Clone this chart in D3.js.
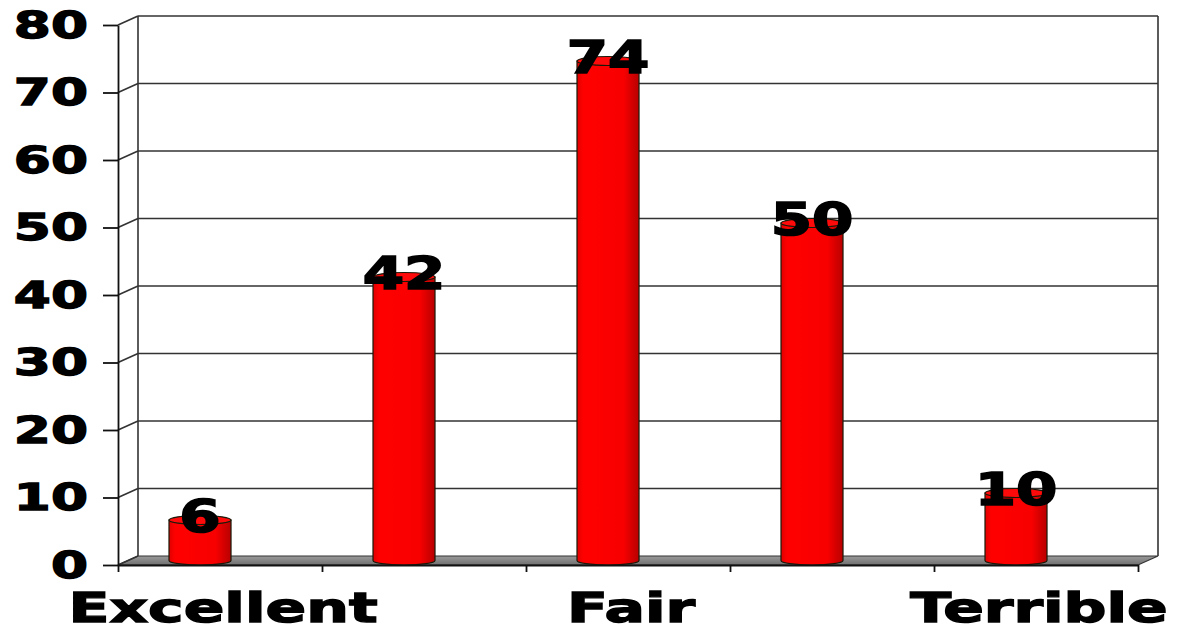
<!DOCTYPE html>
<html><head><meta charset="utf-8">
<script src="https://cdn.jsdelivr.net/npm/d3@7"></script>
<style>body{margin:0;background:#fff}svg{display:block}</style>
</head><body>
<svg id="c" width="1181" height="630"></svg>
<script>
const categories = ["Excellent", "Good", "Fair", "Poor", "Terrible"];
const values = [6, 42, 74, 50, 10];
const shownLabels = ["Excellent", "", "Fair", "", "Terrible"];
const yTicks = [0, 10, 20, 30, 40, 50, 60, 70, 80];

(function () {
const svg = d3.select("#c");
const FONT = "'DejaVu Sans', 'Liberation Sans', Arial, sans-serif";
const depthX = 20, depthY = -9;
const pL = 118, pR = 1138, pB = 565, pT = 25;

const y = d3.scaleLinear().domain([0, 80]).range([pB, pT]);
const x = d3.scaleBand().domain(categories).range([pL, pR]).padding(0);
const edge = d3.scaleLinear().domain([0, categories.length]).range([pL, pR]);
const bw = x.bandwidth();

const defs = svg.append("defs");
const bg = defs.append("linearGradient").attr("id", "barG").attr("x1", 0).attr("x2", 1).attr("y1", 0).attr("y2", 0);
[[0, "#e00000"], [0.1, "#ff0000"], [0.75, "#f80000"], [1, "#b80000"]]
  .forEach(([o, c]) => bg.append("stop").attr("offset", o).attr("stop-color", c));
const fg = defs.append("linearGradient").attr("id", "floorG").attr("x1", 0).attr("x2", 0).attr("y1", 0).attr("y2", 1);
[[0, "#9a9a9a"], [1, "#707070"]].forEach(([o, c]) => fg.append("stop").attr("offset", o).attr("stop-color", c));

// floor
svg.append("path")
  .attr("d", `M${pL},${y(0)} L${pR},${y(0)} L${pR + depthX},${y(0) + depthY} L${pL + depthX},${y(0) + depthY} Z`)
  .attr("fill", "url(#floorG)").attr("stroke", "#333").attr("stroke-width", 1.2);

// back wall gridlines and side diagonals
const grid = svg.append("g").attr("stroke", "#333").attr("stroke-width", 1.6).attr("fill", "none");
yTicks.filter(v => v > 0).forEach(v => {
  grid.append("line").attr("x1", pL + depthX).attr("x2", pR + depthX)
    .attr("y1", y(v) + depthY).attr("y2", y(v) + depthY);
});
yTicks.forEach(v => {
  grid.append("line").attr("x1", pL).attr("x2", pL + depthX)
    .attr("y1", y(v)).attr("y2", y(v) + depthY);
});
grid.append("line").attr("x1", pL + depthX).attr("x2", pL + depthX)
  .attr("y1", y(0) + depthY).attr("y2", y(80) + depthY);
grid.append("line").attr("x1", pR + depthX).attr("x2", pR + depthX)
  .attr("y1", y(0) + depthY).attr("y2", y(80) + depthY);

// bars (cylinders)
const rx = bw * 0.152, ry = 4.5;
const bars = svg.append("g");
categories.forEach((c, i) => {
  const cx = x(c) + bw * 0.25 + rx;
  const yb = y(0) + depthY / 2, yt = y(values[i]) + depthY / 2;
  bars.append("path")
    .attr("d", `M${cx - rx},${yt} L${cx - rx},${yb} A${rx},${ry} 0 0 0 ${cx + rx},${yb} L${cx + rx},${yt} Z`)
    .attr("fill", "url(#barG)").attr("stroke", "#1a1a0a").attr("stroke-width", 1.2);
  bars.append("ellipse").attr("cx", cx).attr("cy", yt).attr("rx", rx).attr("ry", ry)
    .attr("fill", "#ff0a0a").attr("stroke", "#1a1a0a").attr("stroke-width", 1.2);
  const g = bars.append("g").attr("transform", `translate(${cx},${y(values[i]) + 7}) scale(1.35,1)`);
  g.append("text").attr("text-anchor", "middle").attr("font-family", FONT)
    .attr("font-weight", "bold").attr("font-size", 44).attr("fill", "#000")
    .attr("stroke", "#000").attr("stroke-width", 1.6).text(values[i]);
});

// y axis
const ya = svg.append("g").attr("transform", `translate(${pL},0)`)
  .call(d3.axisLeft(y).tickValues(yTicks).tickSize(15).tickSizeOuter(0).tickPadding(0));
ya.selectAll("path,line").attr("stroke", "#111").attr("stroke-width", 1.8);
ya.selectAll("text").attr("x", 0).attr("dy", null)
  .attr("transform", "translate(-30,12) scale(1.44,1)")
  .attr("font-family", FONT).attr("font-weight", "bold").attr("font-size", 37).attr("fill", "#000")
  .attr("stroke", "#000").attr("stroke-width", 1.3);

// x axis
const xa = svg.append("g").attr("transform", `translate(0,${pB})`)
  .call(d3.axisBottom(edge).tickValues(d3.range(categories.length + 1)).tickSize(7).tickSizeOuter(0).tickFormat(""));
xa.selectAll("path,line").attr("stroke", "#111").attr("stroke-width", 1.8);

const xl = svg.append("g");
categories.forEach((c, i) => {
  if (!shownLabels[i]) return;
  xl.append("g").attr("transform", `translate(${x(c) + bw / 2 + 3},622) scale(1.5,1)`)
    .append("text").attr("text-anchor", "middle").attr("font-family", FONT)
    .attr("font-weight", "bold").attr("font-size", 40).attr("fill", "#000")
    .attr("stroke", "#000").attr("stroke-width", 1.3).text(shownLabels[i]);
});
})();
</script>
</body></html>
